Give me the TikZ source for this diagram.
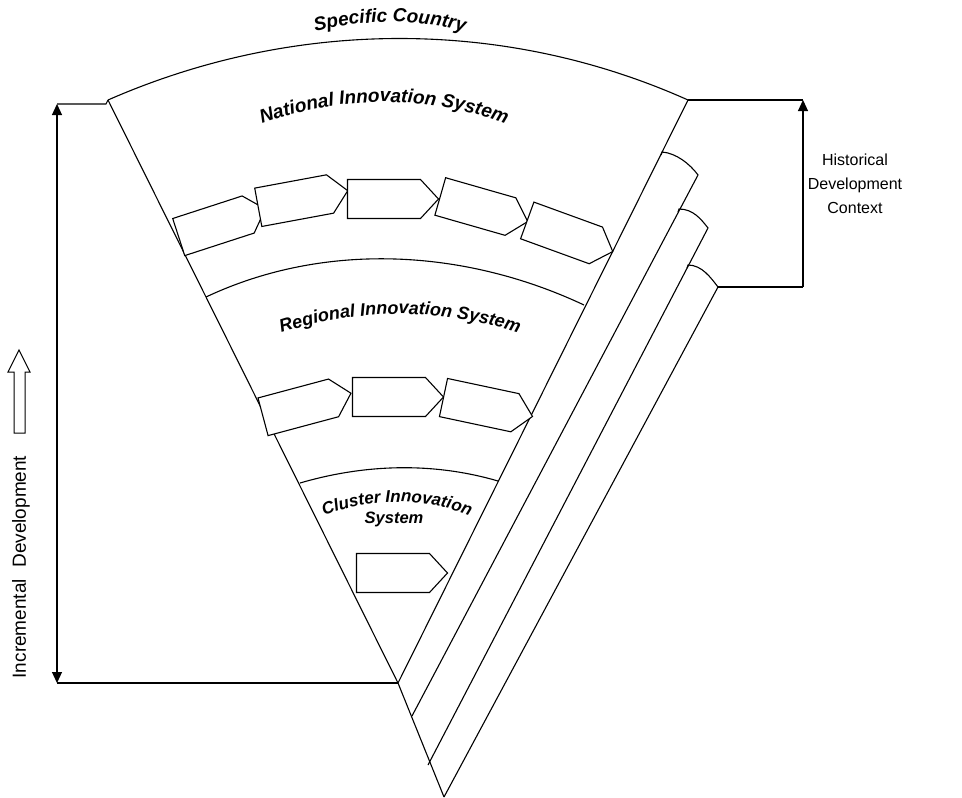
\documentclass[tikz,border=0pt]{standalone}
\usepackage{fontspec}
\setmainfont{Liberation Sans}
\usetikzlibrary{decorations.text,arrows.meta,calc}
\newcommand\fSpec{\fontsize{19}{21}\selectfont\bfseries\itshape}
\newcommand\fNat{\fontsize{19}{21}\selectfont\bfseries\itshape}
\newcommand\fReg{\fontsize{18}{20}\selectfont\bfseries\itshape}
\newcommand\fClu{\fontsize{17}{19}\selectfont\bfseries\itshape}
\newcommand\fSys{\fontsize{16.5}{18}\selectfont\bfseries\itshape}
\tikzset{
  pics/flowbox/.style={code={
    \draw[line width=1.1pt,fill=white] (-45.5,-19.5) -- (27.5,-19.5) -- (45.5,0) -- (27.5,19.5) -- (-45.5,19.5) -- cycle;}},
  hd/.style={line width=1.1pt},
  tipend/.style={-{Triangle[length=11pt,width=10pt]}},
  bothend/.style={{Triangle[length=11pt,width=10pt]}-{Triangle[length=11pt,width=10pt]}},
  arctext/.style={decorate,decoration={text along path,text align=center,text={#1}}},
  plainlbl/.style={font=\fontsize{16}{24}\selectfont,align=center,inner sep=0pt}
}
\begin{document}
\begin{tikzpicture}[x=1pt,y=-1pt,line width=1.1pt]
\useasboundingbox (0,0) rectangle (962,798);
% key points
\coordinate (A) at (398,683);
\coordinate (L) at (108,100);
\coordinate (R) at (688,100);
\coordinate (B) at (444,797);
\coordinate (S1t) at (698,175);
\coordinate (S1b) at (412,716);
\coordinate (S2t) at (708,228);
\coordinate (S2b) at (428,765);
\coordinate (S3t) at (718,287);
\coordinate (K1) at (661,155);
\coordinate (K2) at (678,212);
\coordinate (K3) at (687,268);
\coordinate (HL1) at (57,104);
\coordinate (HL0) at (106,104);
\coordinate (HL2) at (57,683);
\coordinate (HR1) at (803,100);
\coordinate (HR2) at (803,287);
% fan
\draw[hd] (L) -- (A) -- (B);
\draw[hd] (A) -- (R);
\draw[hd] (L) .. controls (295,18) and (505,18) .. (R);
\draw[hd] (206,297) .. controls (325,241) and (465,249) .. (584,305);
\draw[hd] (300,483) .. controls (365,464) and (433,462) .. (498,481);
% strips
\draw[hd] (K1) -- ++(1,-3) .. controls (676,153) and (690,164) .. (S1t) -- (S1b);
\draw[hd] (K2) -- ++(1,-3) .. controls (693,209) and (701,219) .. (S2t) -- (S2b);
\draw[hd] (K3) -- ++(1,-3) .. controls (702,265) and (711,278) .. (S3t) -- (B);
% right bracket
\draw[hd] (R) -- (HR1);
\draw[hd] (S3t) -- (HR2);
\draw[hd,tipend] (HR2) -- (HR1);
% left bracket
\draw[hd] (HL1) -- (HL0) -- (L);
\draw[hd] (HL2) -- (A);
\draw[hd,bothend] (HL1) -- (HL2);
% hollow arrow
\draw[line width=1pt] (14,433) -- (14,372) -- (8,372) -- (19,350) -- (30,372) -- (25,372) -- (25,433) -- cycle;
% process arrows
\pic[rotate=18] at (222,223) {flowbox};
\pic[rotate=10.5] at (303,199) {flowbox};
\pic at (393,199) {flowbox};
\pic[rotate=-16] at (484,209) {flowbox};
\pic[rotate=-20] at (570,236) {flowbox};
\pic[rotate=15] at (307,405) {flowbox};
\pic at (398,397) {flowbox};
\pic[rotate=-12] at (488,407) {flowbox};
\pic at (402,573) {flowbox};
% curved titles
\path[arctext={|\fSpec|Specific Country}] ($(390,320)+(-115:298)$) arc[start angle=-115,end angle=-65,radius=298];
\path[arctext={|\fNat|National Innovation System}] ($(384,452)+(-125:350)$) arc[start angle=-125,end angle=-55,radius=350];
\path[arctext={|\fReg|Regional Innovation System}] ($(400,694)+(-125:380)$) arc[start angle=-125,end angle=-55,radius=380];
\path[arctext={|\fClu|Cluster Innovation}] ($(397,702)+(-135:200)$) arc[start angle=-135,end angle=-45,radius=200];
\node[anchor=base,inner sep=0pt,font=\fSys] (sys) at (394,523) {System};
% side labels
\node[plainlbl] (hist) at (855,184) {Historical\\Development\\Context};
\node[rotate=90,inner sep=0pt,font=\fontsize{19}{21}\selectfont] (incr) at (21,567) {Incremental\hspace{0.6em}Development};
\end{tikzpicture}
\end{document}
